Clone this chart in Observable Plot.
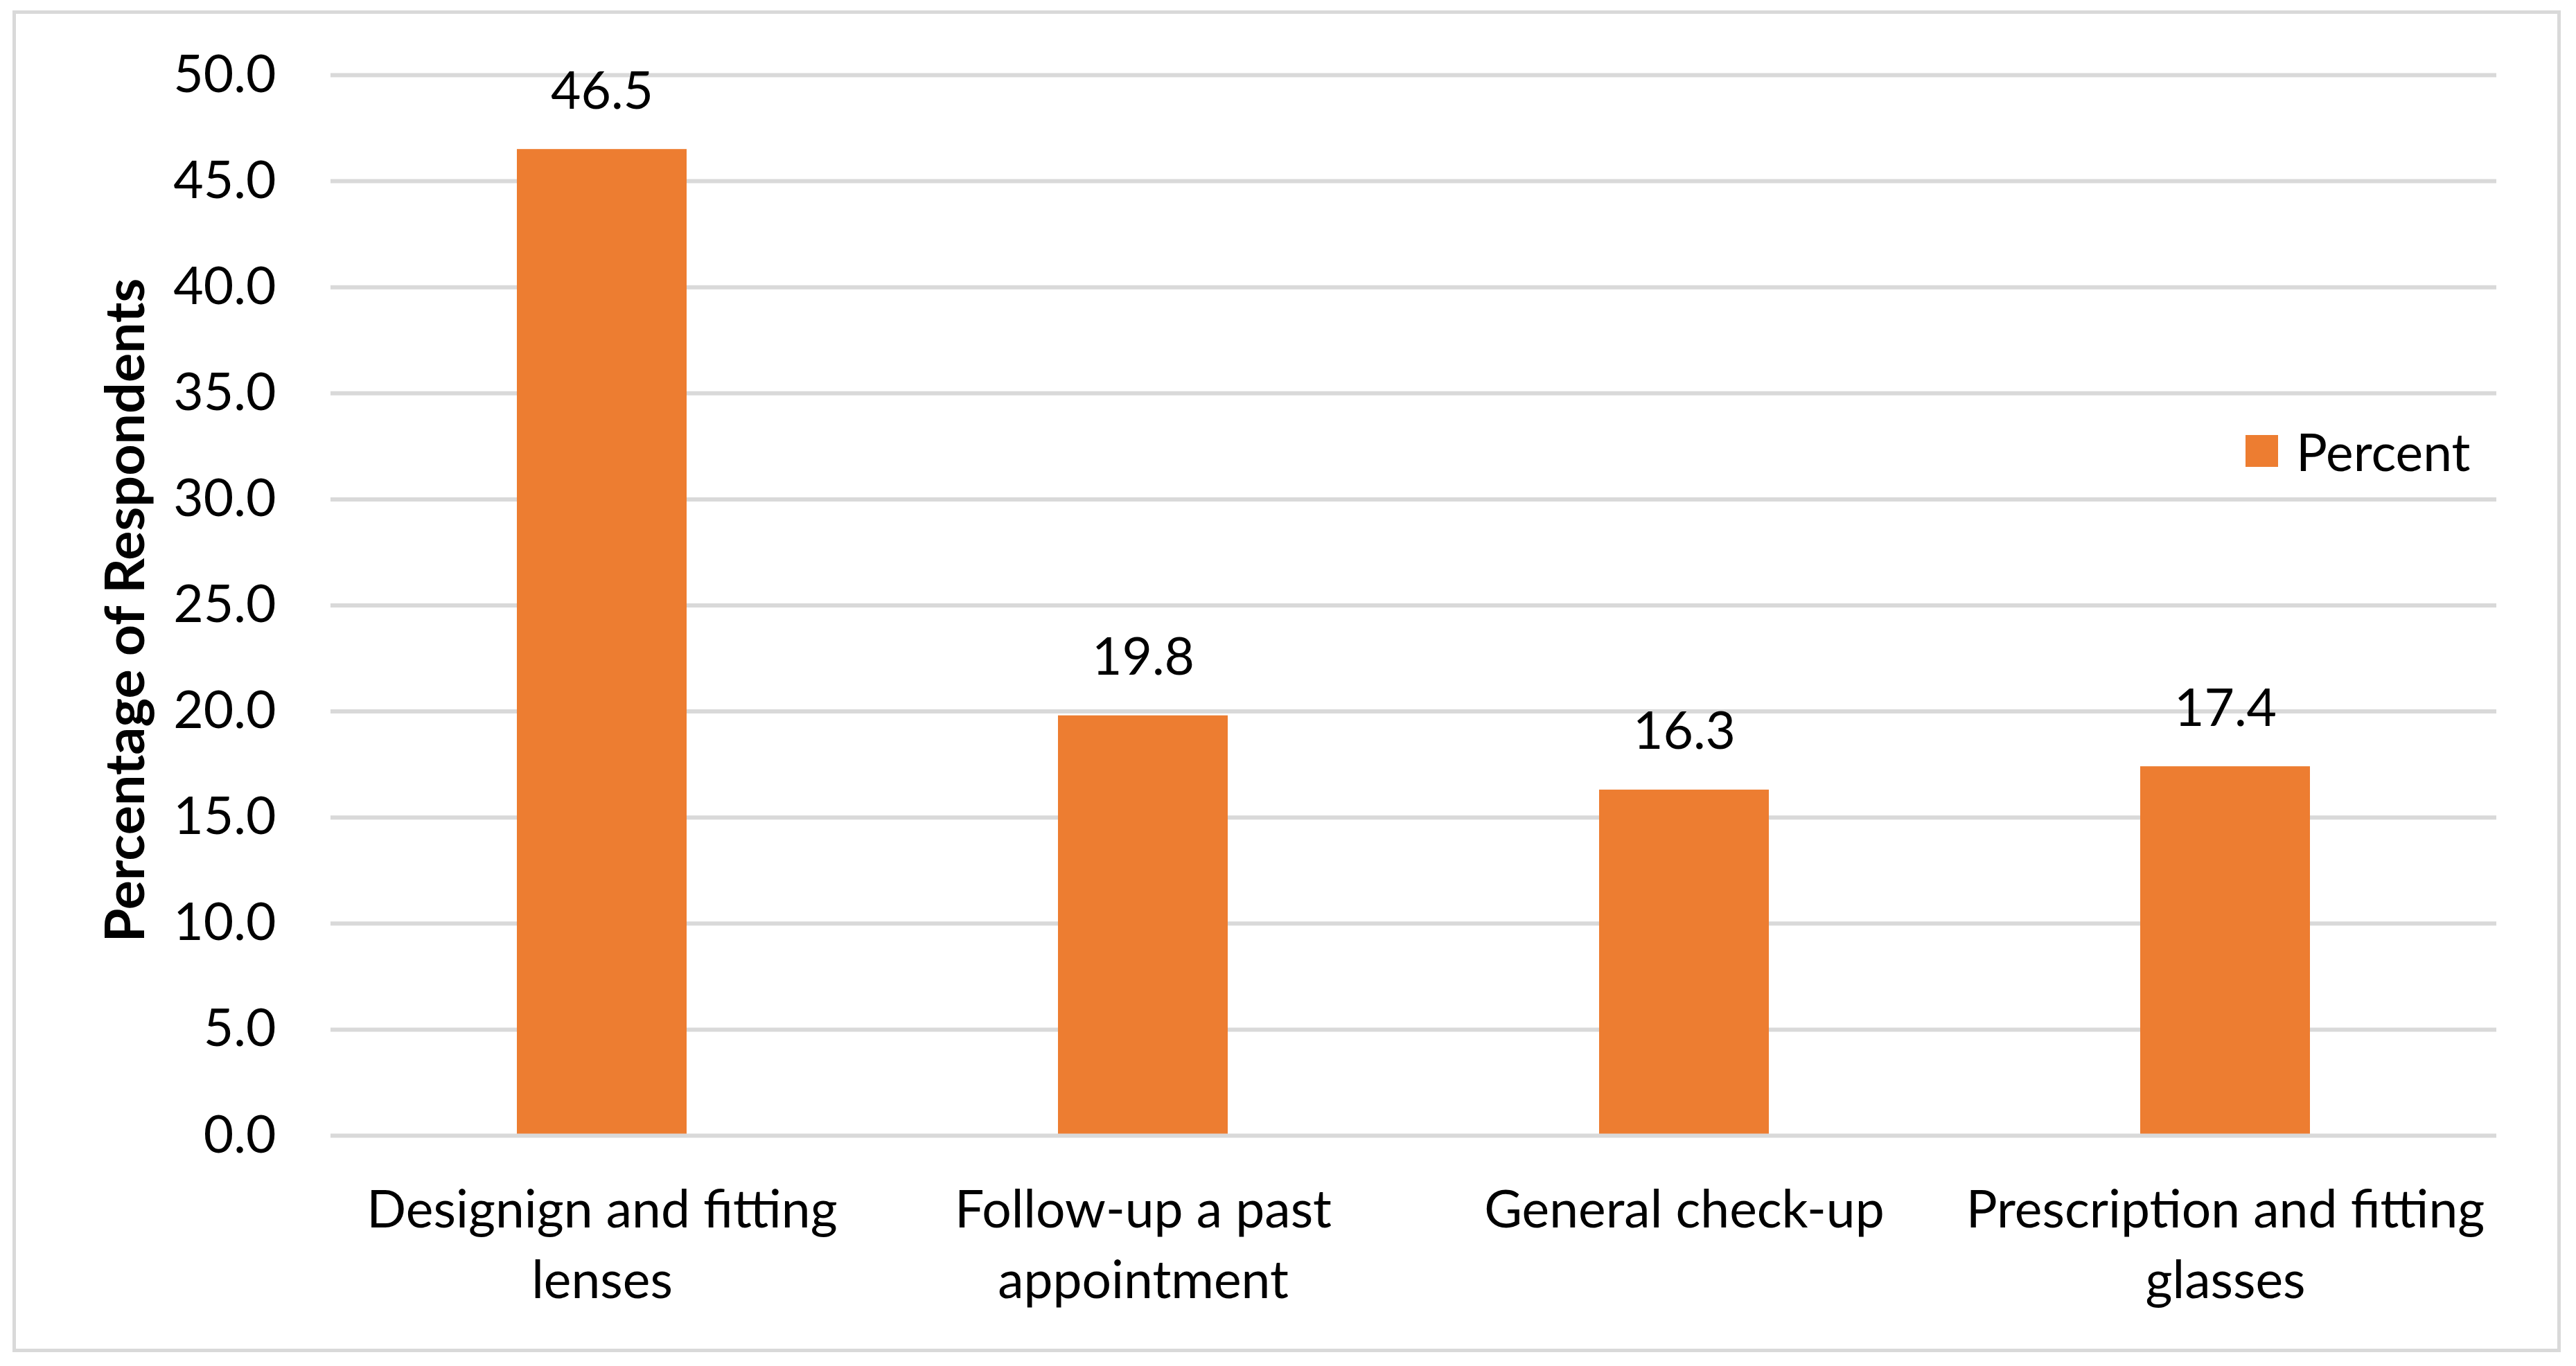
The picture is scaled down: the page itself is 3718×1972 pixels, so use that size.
<!DOCTYPE html>
<html>
<head>
<meta charset="utf-8">
<script src="https://cdn.jsdelivr.net/npm/d3@7"></script>
<script src="https://cdn.jsdelivr.net/npm/@observablehq/plot@0.6"></script>
<style>
  html, body { margin: 0; padding: 0; background: #fff; }
  #wrap { position: relative; width: 3718px; height: 1972px; overflow: hidden; background: #fff; }
  #frame { position: absolute; left: 18px; top: 15px; width: 3678px; height: 1937px; box-sizing: border-box; border: 5px solid #d9d9d9; pointer-events: none; }
  #chart { position: absolute; left: 0; top: 0; }
  #legend { position: absolute; left: 3241px; top: 606px; height: 90px; display: flex; align-items: center; font-family: Lato, sans-serif; font-size: 75px; color: #000; }
  #legend .sw { display: inline-block; width: 47px; height: 46px; background: #ED7D31; margin-right: 26px; }
</style>
</head>
<body>
<div id="wrap">
  <div id="chart"></div>
  <div id="frame"></div>
  <div id="legend"><span class="sw"></span><span id="legend-label"></span></div>
</div>
<script>
const categories = ["Designign and fitting lenses", "Follow-up a past appointment", "General check-up", "Prescription and fitting glasses"];
const tickLabels = ["Designign and fitting\nlenses", "Follow-up a past\nappointment", "General check-up", "Prescription and fitting\nglasses"];
const percents = [46.5, 19.8, 16.3, 17.4];
const yTicks = [0, 5, 10, 15, 20, 25, 30, 35, 40, 45, 50];
const seriesName = "Percent";
const yTitle = "Percentage of Respondents";
const barColor = "#ED7D31";

const data = categories.map((c, i) => ({category: c, value: percents[i]}));

const chart = Plot.plot({
  width: 3718,
  height: 1972,
  marginLeft: 477,
  marginRight: 115,
  marginTop: 108,
  marginBottom: 333,
  style: {fontFamily: "Lato, sans-serif", fontSize: "75px", color: "#000", background: "transparent", overflow: "visible"},
  x: {domain: categories, paddingInner: 0.6865, paddingOuter: 0.343, label: null},
  y: {domain: [0, 50], label: null},
  marks: [
    Plot.ruleY(yTicks.filter(d => d !== 0), {stroke: "#d9d9d9", strokeWidth: 6}),
    Plot.barY(data, {x: "category", y: "value", fill: barColor}),
    Plot.ruleY([0], {stroke: "#d9d9d9", strokeWidth: 6}),
    Plot.text(data, {x: "category", y: "value", text: d => d.value.toFixed(1), lineAnchor: "bottom", dy: -59, fill: "#000"}),
    Plot.axisY({ticks: yTicks, tickFormat: d => d.toFixed(1), tickSize: 0, tickPadding: 79, label: null, fill: "#000"}),
    Plot.axisX({tickSize: 0, tickPadding: 60, lineHeight: 1.36, tickFormat: d => tickLabels[categories.indexOf(d)], label: null, fill: "#000"}),
    Plot.text([yTitle], {frameAnchor: "left", textAnchor: "middle", rotate: -90, dx: -270, dy: 7, lineAnchor: "bottom", fontWeight: "bold", fontSize: 79, fill: "#000"})
  ]
});
document.getElementById("chart").appendChild(chart);
document.getElementById("legend-label").textContent = seriesName;
</script>
</body>
</html>
